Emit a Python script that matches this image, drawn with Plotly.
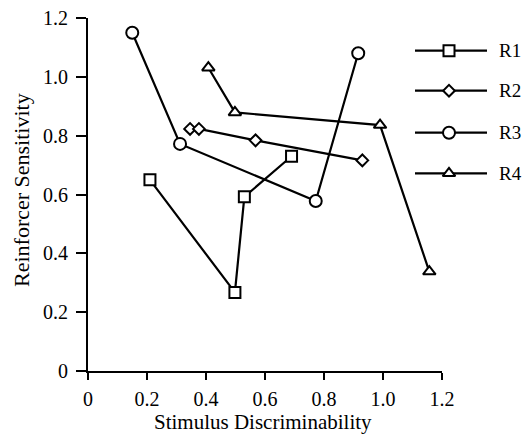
import plotly.graph_objects as go

series_names = ["R1", "R2", "R3", "R4"]
r1_x = [0.21, 0.498, 0.53, 0.69]
r1_y = [0.65, 0.267, 0.592, 0.73]
r2_x = [0.346, 0.376, 0.568, 0.93]
r2_y = [0.823, 0.823, 0.784, 0.716]
r3_x = [0.150, 0.312, 0.772, 0.916]
r3_y = [1.15, 0.772, 0.578, 1.08]
r4_x = [0.408, 0.498, 0.99, 1.157]
r4_y = [1.031, 0.879, 0.836, 0.338]
x_ticks = [0, 0.2, 0.4, 0.6, 0.8, 1.0, 1.2]
x_tick_labels = ["0", "0.2", "0.4", "0.6", "0.8", "1.0", "1.2"]
y_ticks = [0, 0.2, 0.4, 0.6, 0.8, 1.0, 1.2]
y_tick_labels = ["0", "0.2", "0.4", "0.6", "0.8", "1.0", "1.2"]
x_title = "Stimulus Discriminability"
y_title = "Reinforcer Sensitivity"

# the page body keeps an 8px default margin: the figure is sized to fit
# inside it and layout positions are given in window pixels, shifted by OFF
OFF = 8
PW, PH = 530, 445
W, H = PW - 2 * OFF, PH - 2 * OFF

symbols = ["square", "diamond", "circle", "triangle-up"]
sizes = [11, 9, 12, 11]
xs = [r1_x, r2_x, r3_x, r4_x]
ys = [r1_y, r2_y, r3_y, r4_y]

fig = go.Figure()
for name, x, y, sym, sz in zip(series_names, xs, ys, symbols, sizes):
    fig.add_trace(go.Scatter(
        x=x, y=y, mode="lines+markers", name=name,
        line=dict(color="black", width=2.2),
        marker=dict(symbol=sym, size=sz, color="white",
                    line=dict(color="black", width=2)),
        showlegend=False,
    ))

# manual legend on a separate pixel-scaled axis covering the figure
leg_y = [50.7, 90.7, 132.7, 173.3]
for i, (name, sym, sz) in enumerate(zip(series_names, symbols, sizes)):
    fig.add_trace(go.Scatter(
        x=[415, 487], y=[leg_y[i]] * 2, mode="lines",
        line=dict(color="black", width=2.2), xaxis="x2", yaxis="y2",
        showlegend=False, hoverinfo="skip",
    ))
    fig.add_trace(go.Scatter(
        x=[449], y=[leg_y[i]], mode="markers", xaxis="x2", yaxis="y2",
        marker=dict(symbol=sym, size=sz, color="white",
                    line=dict(color="black", width=2)),
        showlegend=False, hoverinfo="skip",
    ))
    fig.add_annotation(x=497, y=leg_y[i], xref="x2", yref="y2", text=name,
                       showarrow=False, xanchor="left", yanchor="middle",
                       font=dict(size=19, color="black", family="Liberation Serif"))

tick_font = dict(family="Liberation Serif", size=20, color="black")
title_font = dict(family="Liberation Serif", size=21, color="black")

fig.add_annotation(x=263, y=422, xref="x2", yref="y2", text=x_title,
                   showarrow=False, xanchor="center", yanchor="middle",
                   font=title_font)
fig.add_annotation(x=21, y=190, xref="x2", yref="y2", text=y_title,
                   showarrow=False, xanchor="center", yanchor="middle",
                   textangle=-90, font=dict(family="Liberation Serif", size=22, color="black"))

fig.update_layout(
    width=W, height=H,
    margin=dict(l=0, r=0, t=0, b=0),
    paper_bgcolor="white", plot_bgcolor="rgba(0,0,0,0)",
    font=tick_font,
    xaxis=dict(domain=[(88 - OFF) / W, (442 - OFF) / W], range=[0, 1.2],
               tickvals=x_ticks, ticktext=x_tick_labels,
               showgrid=False, zeroline=False, showline=True,
               linecolor="black", linewidth=2, ticks="outside",
               ticklen=7, tickwidth=2, tickcolor="black",
               tickfont=tick_font, ticklabelstandoff=2,
               ticklabeloverflow="allow",
               automargin=False, anchor="y"),
    yaxis=dict(domain=[(H - (371 - OFF)) / H, (H - (18 - OFF)) / H], range=[0, 1.2],
               tickvals=y_ticks, ticktext=y_tick_labels,
               showgrid=False, zeroline=False, showline=True,
               linecolor="black", linewidth=2, ticks="outside",
               ticklen=10, tickwidth=2, tickcolor="black",
               tickfont=tick_font, ticklabelstandoff=4,
               ticklabeloverflow="allow",
               automargin=False, anchor="x"),
    xaxis2=dict(domain=[0, 1], range=[OFF, OFF + W], visible=False,
                automargin=False, anchor="y2", fixedrange=True),
    yaxis2=dict(domain=[0, 1], range=[OFF + H, OFF], visible=False,
                automargin=False, anchor="x2", fixedrange=True),
)

fig.write_html("out.html")
